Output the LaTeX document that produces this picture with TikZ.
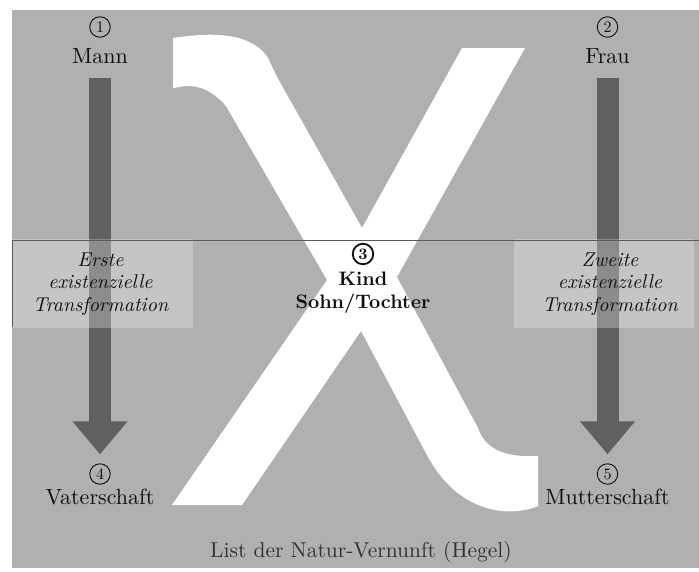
\documentclass[tikz,border=0pt]{standalone}
\usepackage{fontspec}
\setmainfont{lmroman10}[Extension=.otf, UprightFont=*-regular, BoldFont=*-bold, ItalicFont=*-italic, BoldItalicFont=*-bolditalic]
\usepackage{tikz}
\usetikzlibrary{arrows.meta}
\definecolor{panelgray}{RGB}{176, 176, 176}
\definecolor{arrowgray}{RGB}{96, 96, 96}
\definecolor{linegray}{RGB}{90, 90, 90}
\definecolor{inkcolor}{RGB}{15, 15, 15}
\definecolor{captioncolor}{RGB}{50, 50, 50}

\begin{document}
\begin{tikzpicture}[
    x=1pt, y=-1pt,
    termtext/.style={anchor=base, text=inkcolor, font=\fontsize{22}{24}\selectfont},
    kindtext/.style={anchor=base, text=inkcolor, font=\fontsize{19.5}{22}\selectfont\bfseries},
    transtext/.style={anchor=base, align=center, text=inkcolor, font=\fontsize{20}{22.5}\selectfont\itshape},
    captext/.style={anchor=base, text=captioncolor, font=\fontsize{21.5}{24}\selectfont},
    numcirc/.style={draw=inkcolor, circle, line width=0.9pt, minimum size=20.5pt, inner sep=0pt, text=inkcolor, font=\fontsize{16}{16}\selectfont},
    transbox/.style={fill=white, fill opacity=0.28},
    bigarrow/.style={draw=arrowgray, line width=22pt, -{Triangle[width=53pt,length=33pt]}, shorten <=11.7pt, shorten >=9pt},
]
    \useasboundingbox (0,0) rectangle (699,571);
    \fill[panelgray] (12,10) rectangle (699,568);

    % Chi
    \fill[white] (173,88) -- (173,38)
        .. controls (205,33) and (250,30) .. (268,58)
        -- (277,77)
        -- (362,228) -- (462,48) -- (525,48) -- (397,277)
        -- (478,428) .. controls (484,446) and (500,458) .. (538,456)
        -- (538,506) .. controls (515,516) and (462,518) .. (428,457)
        -- (361,331) -- (242,505) -- (172,505) -- (327,280)
        -- (226,106) .. controls (214,92) and (200,85) .. (185,86) -- cycle;

    % Parents and parenthood
    \node[numcirc] (n1) at (100,27) {1};
    \node[termtext] (mann) at (100,63) {Mann};
    \node[numcirc] (n2) at (607.5,27) {2};
    \node[termtext] (frau) at (607.5,63) {Frau};
    \node[numcirc] (n4) at (100,474) {4};
    \node[termtext] (vater) at (100,504) {Vaterschaft};
    \node[numcirc] (n5) at (607.5,474) {5};
    \node[termtext] (mutter) at (607.5,504) {Mutterschaft};

    % Transformations
    \draw[bigarrow] (mann.south) -- (n4.north);
    \draw[bigarrow] (frau.south) -- (n5.north);
    \fill[transbox] (12,239) rectangle (193,328);
    \fill[transbox] (514,239) rectangle (694,328);
    \draw[linegray, line width=0.8pt] (12,327) -- (12,240) -- (699,240);
    \node[transtext] (erste) at (100.5,311) {Erste\\existenzielle\\Transformation};
    \node[transtext] (zweite) at (610,311) {Zweite\\existenzielle\\Transformation};

    % Child
    \node[numcirc, line width=1.8pt, font=\fontsize{16}{16}\selectfont\bfseries] (n3) at (363,254) {3};
    \node[kindtext] (kind) at (363,285) {Kind};
    \node[kindtext] (sohn) at (363,308) {Sohn/Tochter};

    \node[captext] (caption) at (361,557) {List der Natur-Vernunft (Hegel)};
\end{tikzpicture}
\end{document}
